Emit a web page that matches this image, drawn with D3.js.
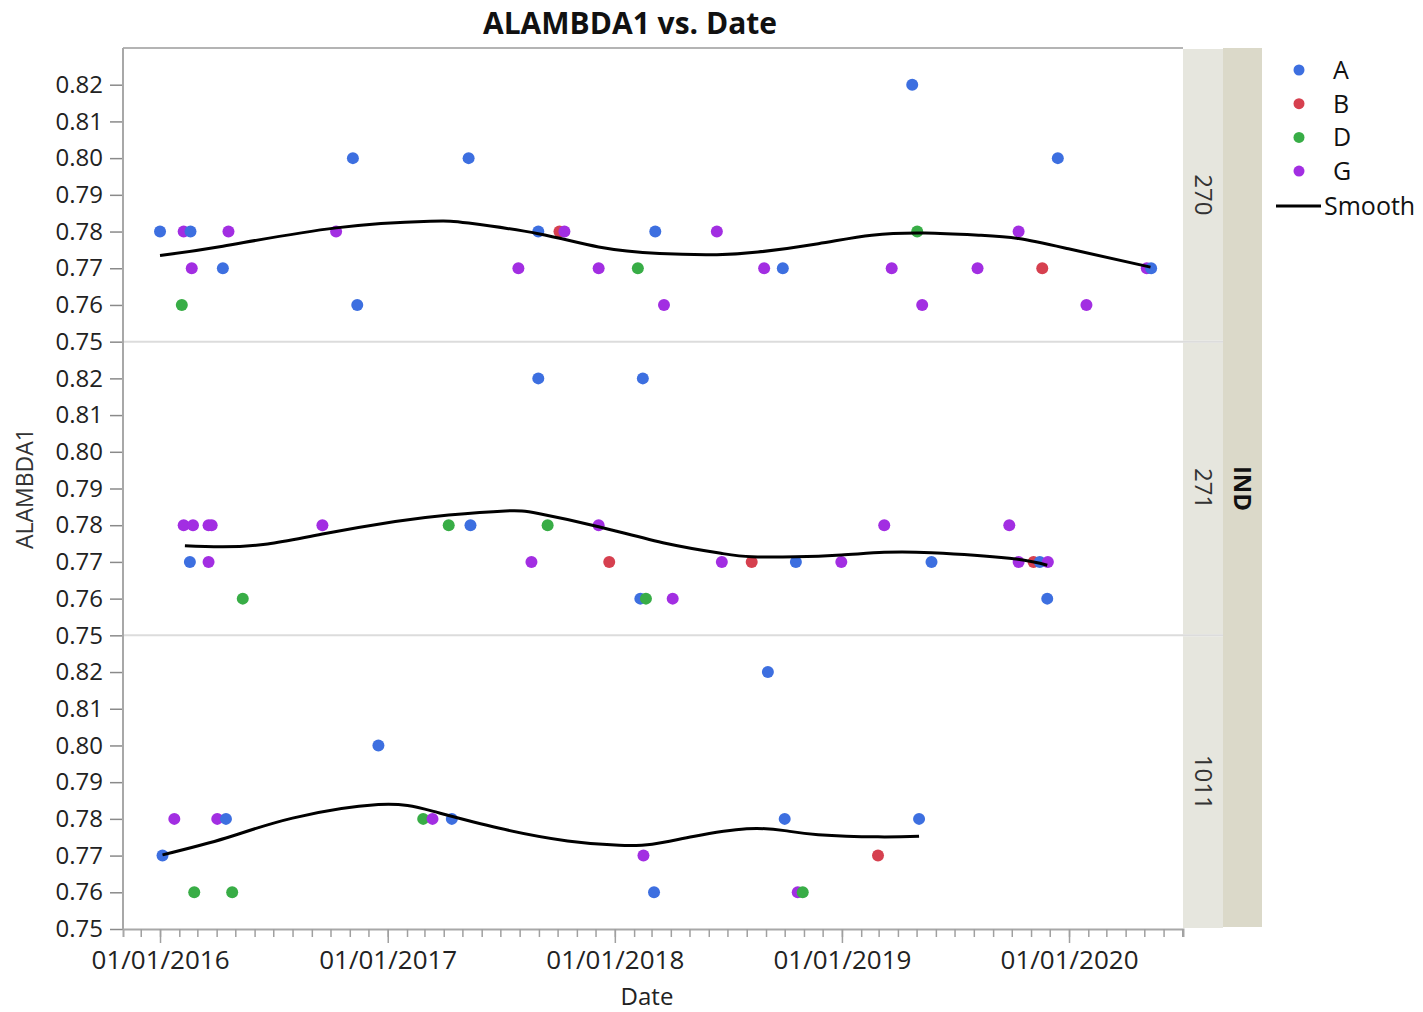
<!DOCTYPE html>
<html>
<head>
<meta charset="utf-8">
<script src="https://cdn.jsdelivr.net/npm/d3@7"></script>
<style>
  body { margin: 0; background: #fff; }
  text { font-family: "Open Sans", sans-serif; }
</style>
</head>
<body>
<div id="chart"></div>
<script>
// --- data ---
var panelNames = ["270", "271", "1011"];
var groupNames = ["A", "B", "D", "G"];
var groupColors = ["#3d6fe0", "#d6404f", "#38ad46", "#a22ee2"];
var yTickValues = [0.75, 0.76, 0.77, 0.78, 0.79, 0.80, 0.81, 0.82];
var yearTicks = ["2016-01-01", "2017-01-01", "2018-01-01", "2019-01-01", "2020-01-01"];

// [date, group, ALAMBDA1]
var points270 = [
  ["2016-01-01","A",0.78], ["2016-02-08","G",0.78], ["2016-02-19","A",0.78], ["2016-04-20","G",0.78],
  ["2016-10-10","G",0.78], ["2016-02-21","G",0.77], ["2016-04-11","A",0.77], ["2016-02-05","D",0.76],
  ["2016-11-06","A",0.80], ["2017-05-11","A",0.80], ["2016-11-13","A",0.76], ["2017-08-31","A",0.78],
  ["2017-10-04","B",0.78], ["2017-10-12","G",0.78], ["2017-07-30","G",0.77], ["2017-12-06","G",0.77],
  ["2018-02-07","D",0.77], ["2018-03-07","A",0.78], ["2018-03-21","G",0.76], ["2018-06-14","G",0.78],
  ["2018-08-29","G",0.77], ["2018-09-28","A",0.77], ["2019-04-24","A",0.82], ["2019-05-02","D",0.78],
  ["2019-03-22","G",0.77], ["2019-05-10","G",0.76], ["2019-08-07","G",0.77], ["2019-10-12","G",0.78],
  ["2019-11-19","B",0.77], ["2019-12-14","A",0.80], ["2020-01-29","G",0.76], ["2020-05-05","G",0.77],
  ["2020-05-12","A",0.77]
];
var points271 = [
  ["2016-02-08","G",0.78], ["2016-02-23","G",0.78], ["2016-03-19","G",0.78], ["2016-03-24","G",0.78],
  ["2016-02-18","A",0.77], ["2016-03-19","G",0.77], ["2016-05-13","D",0.76], ["2016-09-18","G",0.78],
  ["2017-04-09","D",0.78], ["2017-05-14","A",0.78], ["2017-08-31","A",0.82], ["2017-09-15","D",0.78],
  ["2017-08-20","G",0.77], ["2017-12-06","G",0.78], ["2017-12-23","B",0.77], ["2018-02-15","A",0.82],
  ["2018-02-11","A",0.76], ["2018-02-20","D",0.76], ["2018-04-04","G",0.76], ["2018-06-22","G",0.77],
  ["2018-08-09","B",0.77], ["2018-10-19","A",0.77], ["2018-12-31","G",0.77], ["2019-03-10","G",0.78],
  ["2019-05-25","A",0.77], ["2019-09-27","G",0.78], ["2019-10-12","G",0.77], ["2019-11-05","B",0.77],
  ["2019-11-15","A",0.77], ["2019-11-28","G",0.77], ["2019-11-27","A",0.76]
];
var points1011 = [
  ["2016-01-05","A",0.77], ["2016-01-24","G",0.78], ["2016-02-25","D",0.76], ["2016-04-26","D",0.76],
  ["2016-04-02","G",0.78], ["2016-04-16","A",0.78], ["2016-12-17","A",0.80], ["2017-02-27","D",0.78],
  ["2017-03-14","G",0.78], ["2017-04-14","A",0.78], ["2018-02-16","G",0.77], ["2018-03-05","A",0.76],
  ["2018-09-04","A",0.82], ["2018-10-01","A",0.78], ["2018-10-22","G",0.76], ["2018-10-30","D",0.76],
  ["2019-02-28","B",0.77], ["2019-05-05","A",0.78]
];

// smoother curve: [date, value]
var smooth270 = [
  ["2016-01-01",0.7735], ["2016-04-11",0.7760], ["2016-10-10",0.7810], ["2017-03-10",0.7828],
  ["2017-05-11",0.7823], ["2017-08-31",0.7794], ["2017-12-06",0.7758], ["2018-03-14",0.7740],
  ["2018-06-14",0.7737], ["2018-08-19",0.7744], ["2018-11-24",0.7767], ["2019-02-18",0.7790],
  ["2019-05-15",0.7796], ["2019-08-09",0.7790], ["2019-10-12",0.7781], ["2019-12-31",0.7753],
  ["2020-05-11",0.7703]
];
var smooth271 = [
  ["2016-02-10",0.7744], ["2016-04-11",0.7741], ["2016-06-22",0.7749], ["2016-09-18",0.7776],
  ["2017-01-13",0.7810], ["2017-04-09",0.7828], ["2017-07-09",0.7839], ["2017-08-31",0.7832],
  ["2017-12-06",0.7796], ["2018-03-25",0.7750], ["2018-06-22",0.7723], ["2018-08-09",0.7714],
  ["2018-10-19",0.7714], ["2018-12-31",0.7719], ["2019-03-10",0.7726], ["2019-05-25",0.7725],
  ["2019-09-27",0.7710], ["2019-11-27",0.7691]
];
var smooth1011 = [
  ["2016-01-05",0.7702], ["2016-04-16",0.7748], ["2016-08-01",0.7802], ["2016-12-17",0.7839],
  ["2017-03-14",0.7821], ["2017-06-28",0.7775], ["2017-10-17",0.7740], ["2018-01-08",0.7728],
  ["2018-03-02",0.7731], ["2018-05-07",0.7752], ["2018-08-01",0.7773], ["2018-10-01",0.7768],
  ["2018-11-24",0.7757], ["2019-02-28",0.7751], ["2019-05-05",0.7753]
];

var panelPoints = [points270, points271, points1011];
var panelSmooth = [smooth270, smooth271, smooth1011];

// --- layout ---
var W = 1423, H = 1012;
var plot = {left: 123, right: 1183, top: 48, bottom: 929};
var strip1 = 40, strip2 = 39;
var panelH = (plot.bottom - plot.top) / panelNames.length;
var parseDate = d3.utcParse("%Y-%m-%d");

var svg = d3.select("#chart").append("svg")
    .attr("width", W).attr("height", H);

var x = d3.scaleUtc()
    .domain([new Date(Date.UTC(2015, 10, 2, 12)), new Date(Date.UTC(2020, 6, 2, 5))])
    .range([plot.left, plot.right]);

var color = d3.scaleOrdinal().domain(groupNames).range(groupColors);

// title
svg.append("text")
    .attr("x", 630).attr("y", 34)
    .attr("text-anchor", "middle")
    .attr("font-size", "30px").attr("font-weight", "bold")
    .attr("fill", "#111")
    .text("ALAMBDA1 vs. Date");

// outer strip (IND)
svg.append("rect")
    .attr("x", plot.right + strip1).attr("y", plot.top)
    .attr("width", strip2).attr("height", plot.bottom - plot.top - 2)
    .attr("fill", "#dbd9c9");
svg.append("text")
    .attr("transform", "translate(" + (plot.right + strip1 + strip2 / 2 - 9) + "," + (plot.top + (plot.bottom - plot.top) / 2) + ") rotate(90)")
    .attr("text-anchor", "middle")
    .attr("font-size", "24px").attr("font-weight", "bold")
    .attr("fill", "#111")
    .text("IND");

panelNames.forEach(function(name, i) {
    var top = plot.top + i * panelH, bottom = top + panelH;
    var y = d3.scaleLinear().domain([0.75, 0.83]).range([bottom, top]);
    var g = svg.append("g").attr("class", "panel");

    // inner strip
    g.append("rect")
        .attr("x", plot.right).attr("y", top + 1)
        .attr("width", strip1).attr("height", panelH - 2)
        .attr("fill", "#e6e6de");
    g.append("text")
        .attr("transform", "translate(" + (plot.right + strip1 / 2 - 8) + "," + (top + panelH / 2) + ") rotate(90)")
        .attr("text-anchor", "middle")
        .attr("font-size", "24px")
        .attr("fill", "#333")
        .text(name);

    // separator line
    if (i > 0) {
        g.append("line")
            .attr("x1", plot.left).attr("x2", plot.right + strip1)
            .attr("y1", top).attr("y2", top)
            .attr("stroke", "#dcdcdc").attr("stroke-width", 2);
    }

    var yAxis = d3.axisLeft(y)
        .tickValues(yTickValues)
        .tickSize(13).tickPadding(7)
        .tickFormat(d3.format(".2f"));
    var ya = g.append("g")
        .attr("transform", "translate(" + plot.left + ",0)")
        .call(yAxis);
    ya.select(".domain").remove();
    ya.selectAll("line").attr("stroke", "#8a8a8a").attr("stroke-width", 1.5);
    ya.selectAll("text").attr("font-size", "24px").attr("fill", "#222")
        .attr("font-family", "'Open Sans', sans-serif");

    // points
    g.selectAll("circle")
        .data(panelPoints[i])
        .enter().append("circle")
        .attr("cx", function(d) { return x(parseDate(d[0])); })
        .attr("cy", function(d) { return y(d[2]); })
        .attr("r", 6)
        .attr("fill", function(d) { return color(d[1]); });

    // smooth
    var line = d3.line()
        .x(function(d) { return x(parseDate(d[0])); })
        .y(function(d) { return y(d[1]); })
        .curve(d3.curveNatural);
    g.append("path")
        .datum(panelSmooth[i])
        .attr("d", line)
        .attr("fill", "none")
        .attr("stroke", "#000")
        .attr("stroke-width", 3);
});

// frame
svg.append("line")
    .attr("x1", plot.left).attr("x2", plot.right)
    .attr("y1", plot.top).attr("y2", plot.top)
    .attr("stroke", "#b4b4b4").attr("stroke-width", 2);
svg.append("line")
    .attr("x1", plot.left).attr("x2", plot.left)
    .attr("y1", plot.top).attr("y2", plot.bottom)
    .attr("stroke", "#a8a8a8").attr("stroke-width", 2);

// x axis: monthly minor ticks, yearly labelled ticks
var months = d3.utcMonth.range(x.domain()[0], x.domain()[1]);
var minorAxis = d3.axisBottom(x).tickValues(months).tickSize(8).tickFormat("");
var xm = svg.append("g")
    .attr("transform", "translate(0," + plot.bottom + ")")
    .call(minorAxis);
xm.select(".domain").attr("stroke", "#a8a8a8").attr("stroke-width", 2);
xm.selectAll("line").attr("stroke", "#a0a0a0").attr("stroke-width", 1.5);

var majorAxis = d3.axisBottom(x)
    .tickValues(yearTicks.map(parseDate))
    .tickSize(14).tickPadding(8)
    .tickFormat(d3.utcFormat("%m/%d/%Y"));
var xM = svg.append("g")
    .attr("transform", "translate(0," + plot.bottom + ")")
    .call(majorAxis);
xM.select(".domain").remove();
xM.selectAll("line").attr("stroke", "#a0a0a0").attr("stroke-width", 1.5);
xM.selectAll("text").attr("font-size", "26px").attr("fill", "#222")
    .attr("font-family", "'Open Sans', sans-serif");

// axis titles
svg.append("text")
    .attr("x", 647).attr("y", 1005)
    .attr("text-anchor", "middle")
    .attr("font-size", "24px").attr("fill", "#222")
    .text("Date");
svg.append("text")
    .attr("transform", "translate(33," + ((plot.top + plot.bottom) / 2) + ") rotate(-90)")
    .attr("text-anchor", "middle")
    .attr("font-size", "23px").attr("fill", "#333")
    .text("ALAMBDA1");

// legend
var legend = svg.append("g").attr("class", "legend");
var li = legend.selectAll(".item")
    .data(groupNames)
    .enter().append("g")
    .attr("class", "item")
    .attr("transform", function(d, i) { return "translate(1299," + (70 + i * 33.7) + ")"; });
li.append("circle").attr("r", 5.5).attr("fill", function(d) { return color(d); });
li.append("text")
    .attr("x", 34).attr("dy", "0.36em")
    .attr("text-anchor", "start")
    .attr("font-size", "25px").attr("fill", "#111")
    .text(function(d) { return d; });
legend.append("line")
    .attr("x1", 1276).attr("x2", 1321)
    .attr("y1", 206).attr("y2", 206)
    .attr("stroke", "#000").attr("stroke-width", 3);
legend.append("text")
    .attr("x", 1324).attr("y", 206).attr("dy", "0.36em")
    .attr("font-size", "25px").attr("fill", "#111")
    .text("Smooth");
</script>
</body>
</html>
